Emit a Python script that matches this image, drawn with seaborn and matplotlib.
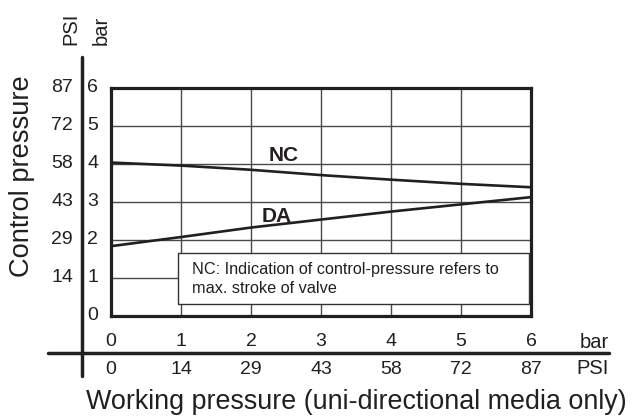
import matplotlib
matplotlib.use("Agg")
import matplotlib.pyplot as plt
import matplotlib.transforms as mtransforms
from matplotlib.lines import Line2D
from matplotlib.patches import Rectangle
import seaborn as sns
import pandas as pd

# ---- data ----
working_bar = [0, 1, 2, 3, 4, 5, 6]
nc_control_bar = [4.03, 3.95, 3.84, 3.70, 3.58, 3.47, 3.38]
da_control_bar = [1.83, 2.07, 2.32, 2.53, 2.74, 2.93, 3.12]
series_names = ["NC", "DA"]
x_bar_ticks = [0, 1, 2, 3, 4, 5, 6]
x_psi_labels = ["0", "14", "29", "43", "58", "72", "87"]
y_bar_ticks = [0, 1, 2, 3, 4, 5, 6]
y_psi_labels = ["", "14", "29", "43", "58", "72", "87"]
note_text = "NC: Indication of control-pressure refers to\nmax. stroke of valve"

df = pd.DataFrame({
    "working": working_bar * 2,
    "control": nc_control_bar + da_control_bar,
    "series": [series_names[0]] * len(working_bar) + [series_names[1]] * len(working_bar),
})

sns.set_style("white")
plt.rcParams["font.family"] = ["Liberation Sans", "DejaVu Sans"]

W, H = 632, 416
fig = plt.figure(figsize=(W / 100, H / 100), dpi=100)

def fx(px):
    return px / W

def fy(py):
    return 1 - py / H

left, right, top, bottom = 111, 531, 87.7, 315.7
ax = fig.add_axes([fx(left), fy(bottom), fx(right - left), (bottom - top) / H])

ink = "#231f20"
sns.lineplot(data=df, x="working", y="control", hue="series",
             palette={"NC": ink, "DA": ink}, linewidth=1.9, legend=False, ax=ax)

ax.set_xlim(0, 6)
ax.set_ylim(0, 6)
ax.set_xticks(x_bar_ticks)
ax.set_yticks(y_bar_ticks)
ax.tick_params(length=0, labelbottom=False, labelleft=False)
ax.set_xlabel("")
ax.set_ylabel("")
ax.grid(True, color="#4a4a4a", linewidth=1.0)
ax.set_axisbelow(True)
for s in ax.spines.values():
    s.set_visible(True)
    s.set_color(ink)
    s.set_linewidth(2.3)

# series labels
ax.text(2.46, 4.21, "NC", fontsize=15, fontweight="bold", ha="center", va="center", color=ink)
ax.text(2.37, 2.62, "DA", fontsize=15, fontweight="bold", ha="center", va="center", color=ink)

# note box
ax.add_patch(Rectangle((0.96, 0.30), 5.01, 1.35, facecolor="white", edgecolor="#333333",
                       linewidth=1.0, zorder=3))
ax.text(1.16, 0.97, note_text, fontsize=11.7, ha="left", va="center", color=ink,
        linespacing=1.3, zorder=4)

tick_fs = 14
# y tick labels (bar, PSI)
ty = mtransforms.blended_transform_factory(fig.transFigure, ax.transData)
for v in y_bar_ticks:
    fig.text(fx(87), v, str(v), transform=ty, fontsize=tick_fs, ha="left", va="center", color=ink)
for v, lab in zip(y_bar_ticks, y_psi_labels):
    if lab:
        fig.text(fx(73), v, lab, transform=ty, fontsize=tick_fs, ha="right", va="center", color=ink)

# x tick labels (bar, PSI)
tx = mtransforms.blended_transform_factory(ax.transData, fig.transFigure)
for v in x_bar_ticks:
    fig.text(v, fy(342), str(v), transform=tx, fontsize=tick_fs, ha="center", va="center", color=ink)
for v, lab in zip(x_bar_ticks, x_psi_labels):
    fig.text(v, fy(369), lab, transform=tx, fontsize=tick_fs, ha="center", va="center", color=ink)

# unit labels
fig.text(fx(609), fy(342), "bar", fontsize=14.5, ha="right", va="center", color=ink)
fig.text(fx(609), fy(369), "PSI", fontsize=14.5, ha="right", va="center", color=ink)
fig.text(fx(71), fy(45), "PSI", fontsize=14.5, rotation=90, ha="center", va="bottom", color=ink)
fig.text(fx(101), fy(45), "bar", fontsize=14.5, rotation=90, ha="center", va="bottom", color=ink)

# outer cross axes
fig.add_artist(Line2D([fx(82), fx(82)], [fy(57), fy(376)], transform=fig.transFigure,
                      color=ink, linewidth=2.5))
fig.add_artist(Line2D([fx(48), fx(609)], [fy(353), fy(353)], transform=fig.transFigure,
                      color=ink, linewidth=2.5))

# axis titles
fig.text(fx(22), fy(176), "Control pressure", fontsize=19.6, rotation=90, ha="center", va="center", color=ink)
fig.text(fx(356), fy(409), "Working pressure (uni-directional media only)", fontsize=19.4,
         ha="center", va="baseline", color=ink)

fig.savefig("out.png", dpi=100)
